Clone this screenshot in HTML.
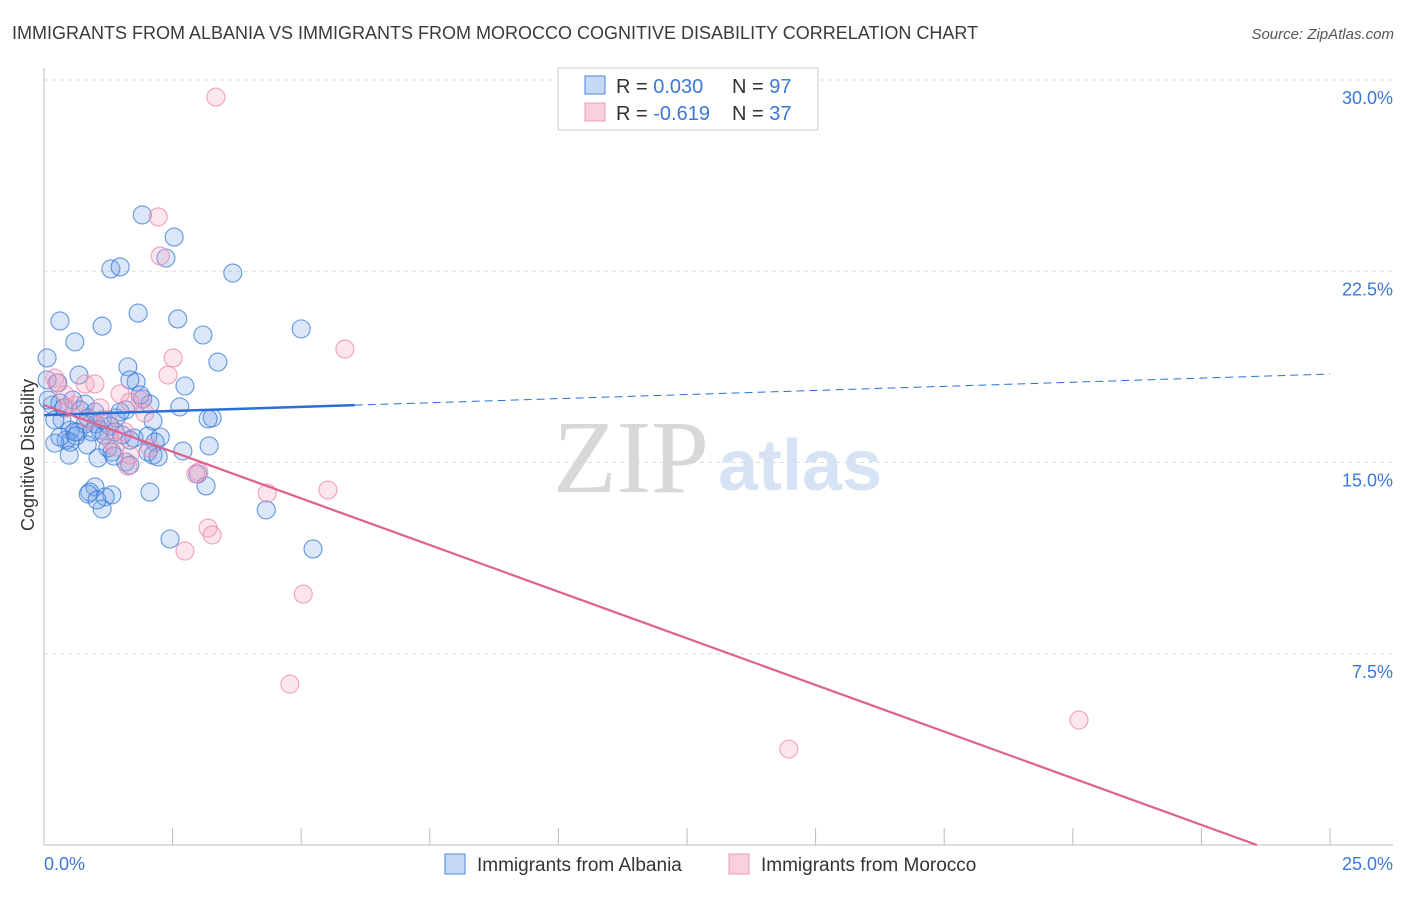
<!DOCTYPE html>
<html><head><meta charset="utf-8"><style>
body{margin:0;background:#fff;font-family:"Liberation Sans",sans-serif}
svg text{font-family:"Liberation Sans",sans-serif}
</style></head><body>
<svg id="chart" width="1406" height="892">
<text x="12" y="39" font-size="18" fill="#3a3a3a">IMMIGRANTS FROM ALBANIA VS IMMIGRANTS FROM MOROCCO COGNITIVE DISABILITY CORRELATION CHART</text>
<text x="1394" y="39" font-size="15" fill="#555" text-anchor="end" font-style="italic">Source: ZipAtlas.com</text>
<g id="grid"></g>
<text x="553" y="492" font-size="104" fill="#d8d8d8" style="font-family:'Liberation Serif',serif">ZIP</text>
<text x="718" y="490" font-size="72" fill="#d6e3f5" font-weight="bold">atlas</text>
<text transform="translate(34,455) rotate(-90)" font-size="18" fill="#333" text-anchor="middle">Cognitive Disability</text>
<g id="pts"></g>
<g id="trend"></g>
<g>
<rect x="558" y="68" width="260" height="62" fill="#fff" stroke="#ccc"/>
<rect x="585" y="76" width="20" height="18" fill="#c5d9f5" stroke="#4a86d8"/>
<rect x="585" y="103" width="20" height="18" fill="#fbd0de" stroke="#e99bb5"/>
<text x="616" y="93" font-size="20" fill="#333">R = <tspan fill="#3b78d8">0.030</tspan><tspan x="732">N = </tspan><tspan fill="#3b78d8">97</tspan></text>
<text x="616" y="120" font-size="20" fill="#333">R = <tspan fill="#3b78d8">-0.619</tspan><tspan x="732">N = </tspan><tspan fill="#3b78d8">37</tspan></text>
</g>
<g>
<rect x="445" y="854" width="20" height="20" fill="#c5d9f5" stroke="#4a86d8"/>
<text x="477" y="871" font-size="19" fill="#333">Immigrants from Albania</text>
<rect x="729" y="854" width="20" height="20" fill="#fbd0de" stroke="#e99bb5"/>
<text x="761" y="871" font-size="19" fill="#333">Immigrants from Morocco</text>
</g>
</svg>
<script>
const blueX=[1.91,2.53,2.37,1.30,1.48,3.67,1.83,2.60,0.31,1.13,3.09,5.00,0.60,0.06,1.63,3.38,0.68,1.79,2.74,1.92,0.06,0.27,2.64,3.27,3.19,2.12,0.35,0.86,1.01,1.28,0.80,1.40,1.59,1.48,0.16,0.21,0.51,0.66,1.09,1.38,1.67,2.02,2.26,2.16,0.43,0.51,0.31,0.60,0.93,1.17,1.52,0.21,0.84,1.24,1.32,2.02,2.12,2.22,2.70,3.21,0.49,1.05,1.59,1.36,1.67,2.99,3.15,0.99,0.89,0.86,1.32,1.19,1.13,1.03,2.06,4.32,2.45,5.23,1.67,2.06,0.31,0.56,0.80,0.08,0.70,0.99,1.87,0.39,0.62,1.13,1.75];
const blueY=[24.71,23.84,23.02,22.59,22.67,22.43,20.86,20.63,20.55,20.35,20.0,20.24,19.73,19.1,18.75,18.94,18.43,18.16,18.0,17.49,18.24,18.12,17.18,16.75,16.71,16.63,16.67,16.75,16.51,16.43,16.51,16.75,17.06,16.98,17.25,16.67,16.27,16.2,16.27,16.2,15.88,16.04,16.0,15.8,15.88,15.8,16.0,16.2,16.2,16.08,16.08,15.76,15.69,15.57,15.41,15.41,15.29,15.22,15.45,15.65,15.29,15.18,15.02,15.25,14.9,14.55,14.08,14.04,13.84,13.76,13.73,13.65,13.18,13.53,13.84,13.14,12.0,11.61,18.24,17.29,17.33,17.45,17.29,17.45,17.06,16.98,17.65,17.14,16.04,16.67,15.96];
const pinkX=[3.34,2.22,2.26,5.85,2.51,2.41,0.21,0.25,0.80,0.99,1.48,1.87,1.67,0.60,0.45,1.09,1.96,1.24,0.86,1.57,2.06,1.67,1.63,3.01,2.95,4.34,5.52,3.19,3.27,2.74,5.04,4.78,20.12,14.48,0.41,1.28,1.38];
const pinkY=[29.33,24.63,23.1,19.45,19.1,18.43,18.31,18.12,18.08,18.08,17.69,17.45,17.37,17.25,17.14,17.14,16.94,16.67,16.67,16.2,15.57,15.29,14.86,14.63,14.55,13.8,13.92,12.43,12.16,11.53,9.84,6.31,4.9,3.76,17.65,15.88,15.61];
const yTicks=[7.5,15,22.5,30];
const yTickLabels=["7.5%","15.0%","22.5%","30.0%"];
const blueTrend=[16.86,18.47];
const pinkTrend=[17.25,-0.7316];
const NS="http://www.w3.org/2000/svg";
const sx=v=>44+v*51.44, sy=v=>845-v*25.5;
function mk(t,a,p){const e=document.createElementNS(NS,t);for(const k in a)e.setAttribute(k,a[k]);p.appendChild(e);return e;}
const grid=document.getElementById('grid');
yTicks.forEach((t,i)=>{
 const l=mk('line',{x1:44,x2:1393,y1:sy(t),y2:sy(t),stroke:'#ddd','stroke-dasharray':'4,4'},grid);
 
 
 const tx=mk('text',{x:1393,y:sy(t)+24,'text-anchor':'end','font-size':18,fill:'#3b78d8'},grid);
 tx.textContent=yTickLabels[i];
 
 
});
mk('line',{x1:44,x2:44,y1:68,y2:845,stroke:'#bbb'},grid);
mk('line',{x1:44,x2:1393,y1:845,y2:845,stroke:'#bbb'},grid);
for(let i=0;i<=10;i++){const t=mk('line',{x1:sx(i*2.5),x2:sx(i*2.5),y1:828,y2:845,stroke:'#bbb'},grid);
 
 }
const xl=mk('text',{x:44,y:870,'font-size':18,fill:'#3b78d8'},grid);xl.textContent='0.0%';


const xr=mk('text',{x:1393,y:870,'font-size':18,fill:'#3b78d8','text-anchor':'end'},grid);xr.textContent='25.0%';


const pts=document.getElementById('pts');
blueX.forEach((x,i)=>{const c=mk('circle',{cx:sx(x),cy:sy(blueY[i]),r:9,fill:'rgba(110,160,230,0.25)',stroke:'rgba(50,120,215,0.75)','stroke-width':1.1},pts);
 
 });
pinkX.forEach((x,i)=>{const c=mk('circle',{cx:sx(x),cy:sy(pinkY[i]),r:9,fill:'rgba(245,160,190,0.28)',stroke:'rgba(235,140,175,0.8)','stroke-width':1.1},pts);
 
 });
const tr=document.getElementById('trend');
const bAt=x=>blueTrend[0]+(blueTrend[1]-blueTrend[0])*x/25;
const b1=mk('line',{x1:sx(0),y1:sy(bAt(0)),x2:sx(6.04),y2:sy(bAt(6.04)),stroke:'#2a6fd6','stroke-width':2.5},tr);


const b2=mk('line',{x1:sx(6.04),y1:sy(bAt(6.04)),x2:sx(25),y2:sy(bAt(25)),stroke:'#2a6fd6','stroke-width':1,'stroke-dasharray':'8,5'},tr);


const xe=-pinkTrend[0]/pinkTrend[1];
const p1=mk('line',{x1:sx(0),y1:sy(pinkTrend[0]),x2:sx(xe),y2:sy(0),stroke:'#e0608e','stroke-width':2.2},tr);


</script>
</body></html>
